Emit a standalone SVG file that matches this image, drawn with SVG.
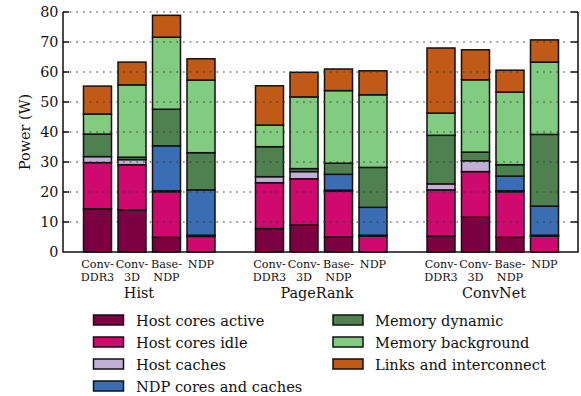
<svg xmlns="http://www.w3.org/2000/svg" width="581" height="396" viewBox="0 0 581 396">
<style>
text{font-family:"DejaVu Serif","Liberation Serif",serif;fill:#111}
.tk{font-size:14.4px;text-anchor:end}
.xl{font-size:11.2px;text-anchor:middle}
.gl{font-size:14.4px;text-anchor:middle}
.lg{font-size:14.6px}
rect.s{stroke:#111;stroke-width:1.5}
.ha{fill:#7c0041}.hi{fill:#cf0a6f}.hc{fill:#c1b0d6}.nd{fill:#3b6db3}.md{fill:#4f8150}.mb{fill:#82cc82}.li{fill:#c15a16}
.grid{stroke:#333;stroke-width:1.1;stroke-dasharray:1.6 5.07;fill:none}
.ax{stroke:#111;stroke-width:1.5;fill:none}
</style>
<rect width="581" height="396" fill="#fff"/>
<g id="bars">
<g id="hist-convddr3">
<rect class="s ha" x="83.5" y="208.8" width="28" height="43.2"/>
<rect class="s hi" x="83.5" y="162.6" width="28" height="46.2"/>
<rect class="s hc" x="83.5" y="156.6" width="28" height="6"/>
<rect class="s md" x="83.5" y="134.1" width="28" height="22.5"/>
<rect class="s mb" x="83.5" y="114" width="28" height="20.1"/>
<rect class="s li" x="83.5" y="86.1" width="28" height="27.9"/>
</g>
<g id="hist-conv3d">
<rect class="s ha" x="118" y="210" width="28" height="42"/>
<rect class="s hi" x="118" y="164.7" width="28" height="45.3"/>
<rect class="s hc" x="118" y="159.6" width="28" height="5.1"/>
<rect class="s md" x="118" y="157.2" width="28" height="2.4"/>
<rect class="s mb" x="118" y="84.9" width="28" height="72.3"/>
<rect class="s li" x="118" y="62.1" width="28" height="22.8"/>
</g>
<g id="hist-basendp">
<rect class="s ha" x="152.5" y="237.3" width="28" height="14.7"/>
<rect class="s hi" x="152.5" y="191.7" width="28" height="45.6"/>
<rect class="s hc" x="152.5" y="190.8" width="28" height="0.9"/>
<rect class="s nd" x="152.5" y="145.8" width="28" height="45"/>
<rect class="s md" x="152.5" y="109.2" width="28" height="36.6"/>
<rect class="s mb" x="152.5" y="37.2" width="28" height="72"/>
<rect class="s li" x="152.5" y="15.3" width="28" height="21.9"/>
</g>
<g id="hist-ndp">
<rect class="s hi" x="187" y="236.4" width="28" height="15.6"/>
<rect class="s hc" x="187" y="235.2" width="28" height="1.2"/>
<rect class="s nd" x="187" y="189.9" width="28" height="45.3"/>
<rect class="s md" x="187" y="152.7" width="28" height="37.2"/>
<rect class="s mb" x="187" y="80.1" width="28" height="72.6"/>
<rect class="s li" x="187" y="58.8" width="28" height="21.3"/>
</g>
<g id="pr-convddr3">
<rect class="s ha" x="255.5" y="228.6" width="28" height="23.4"/>
<rect class="s hi" x="255.5" y="182.7" width="28" height="45.9"/>
<rect class="s hc" x="255.5" y="176.7" width="28" height="6"/>
<rect class="s md" x="255.5" y="146.7" width="28" height="30"/>
<rect class="s mb" x="255.5" y="125.1" width="28" height="21.6"/>
<rect class="s li" x="255.5" y="85.8" width="28" height="39.3"/>
</g>
<g id="pr-conv3d">
<rect class="s ha" x="290" y="225" width="28" height="27"/>
<rect class="s hi" x="290" y="178.8" width="28" height="46.2"/>
<rect class="s hc" x="290" y="171.6" width="28" height="7.2"/>
<rect class="s md" x="290" y="168.6" width="28" height="3"/>
<rect class="s mb" x="290" y="96.9" width="28" height="71.7"/>
<rect class="s li" x="290" y="72.3" width="28" height="24.6"/>
</g>
<g id="pr-basendp">
<rect class="s ha" x="324.5" y="237" width="28" height="15"/>
<rect class="s hi" x="324.5" y="191.1" width="28" height="45.9"/>
<rect class="s hc" x="324.5" y="190.2" width="28" height="0.9"/>
<rect class="s nd" x="324.5" y="174.3" width="28" height="15.9"/>
<rect class="s md" x="324.5" y="163.2" width="28" height="11.1"/>
<rect class="s mb" x="324.5" y="90.6" width="28" height="72.6"/>
<rect class="s li" x="324.5" y="69" width="28" height="21.6"/>
</g>
<g id="pr-ndp">
<rect class="s hi" x="359" y="236.1" width="28" height="15.9"/>
<rect class="s hc" x="359" y="235.2" width="28" height="0.9"/>
<rect class="s nd" x="359" y="207.3" width="28" height="27.9"/>
<rect class="s md" x="359" y="167.4" width="28" height="39.9"/>
<rect class="s mb" x="359" y="94.8" width="28" height="72.6"/>
<rect class="s li" x="359" y="70.8" width="28" height="24"/>
</g>
<g id="cn-convddr3">
<rect class="s ha" x="427" y="236.1" width="28" height="15.9"/>
<rect class="s hi" x="427" y="189.9" width="28" height="46.2"/>
<rect class="s hc" x="427" y="183.9" width="28" height="6"/>
<rect class="s md" x="427" y="135.3" width="28" height="48.6"/>
<rect class="s mb" x="427" y="113.1" width="28" height="22.2"/>
<rect class="s li" x="427" y="48" width="28" height="65.1"/>
</g>
<g id="cn-conv3d">
<rect class="s ha" x="461.5" y="217.2" width="28" height="34.8"/>
<rect class="s hi" x="461.5" y="171.6" width="28" height="45.6"/>
<rect class="s hc" x="461.5" y="160.8" width="28" height="10.8"/>
<rect class="s md" x="461.5" y="152.1" width="28" height="8.7"/>
<rect class="s mb" x="461.5" y="79.8" width="28" height="72.3"/>
<rect class="s li" x="461.5" y="49.8" width="28" height="30"/>
</g>
<g id="cn-basendp">
<rect class="s ha" x="496" y="237.3" width="28" height="14.7"/>
<rect class="s hi" x="496" y="191.7" width="28" height="45.6"/>
<rect class="s hc" x="496" y="190.8" width="28" height="0.9"/>
<rect class="s nd" x="496" y="176.1" width="28" height="14.7"/>
<rect class="s md" x="496" y="164.7" width="28" height="11.4"/>
<rect class="s mb" x="496" y="92.1" width="28" height="72.6"/>
<rect class="s li" x="496" y="70.2" width="28" height="21.9"/>
</g>
<g id="cn-ndp">
<rect class="s hi" x="530.5" y="236.1" width="28" height="15.9"/>
<rect class="s hc" x="530.5" y="235.2" width="28" height="0.9"/>
<rect class="s nd" x="530.5" y="206.1" width="28" height="29.1"/>
<rect class="s md" x="530.5" y="134.4" width="28" height="71.7"/>
<rect class="s mb" x="530.5" y="62.1" width="28" height="72.3"/>
<rect class="s li" x="530.5" y="39.9" width="28" height="22.2"/>
</g>
</g>
<g id="grid">
<path class="grid" d="M63 12H578M63 42H578M63 72H578M63 102H578M63 132H578M63 162H578M63 192H578M63 222H578"/>
</g>
<g id="axes">
<path class="ax" d="M63 12V252H578V12"/>
<path class="ax" d="M63 12h6M63 42h6M63 72h6M63 102h6M63 132h6M63 162h6M63 192h6M63 222h6M578 12h-7M578 42h-7M578 72h-7M578 102h-7M578 132h-7M578 162h-7M578 192h-7M578 222h-7"/>
<text class="tk" x="58.5" y="17">80</text>
<text class="tk" x="58.5" y="47">70</text>
<text class="tk" x="58.5" y="77">60</text>
<text class="tk" x="58.5" y="107">50</text>
<text class="tk" x="58.5" y="137">40</text>
<text class="tk" x="58.5" y="167">30</text>
<text class="tk" x="58.5" y="197">20</text>
<text class="tk" x="58.5" y="227">10</text>
<text class="tk" x="58.5" y="257">0</text>
<text class="gl" transform="translate(29.5 132) rotate(-90)">Power (W)</text>
</g>
<g id="xlabels">
<text class="xl" x="97.5" y="268">Conv-</text><text class="xl" x="97.5" y="280.5">DDR3</text>
<text class="xl" x="132" y="268">Conv-</text><text class="xl" x="132" y="280.5">3D</text>
<text class="xl" x="166.5" y="268">Base-</text><text class="xl" x="166.5" y="280.5">NDP</text>
<text class="xl" x="201" y="268">NDP</text>
<text class="xl" x="269.5" y="268">Conv-</text><text class="xl" x="269.5" y="280.5">DDR3</text>
<text class="xl" x="304" y="268">Conv-</text><text class="xl" x="304" y="280.5">3D</text>
<text class="xl" x="338.5" y="268">Base-</text><text class="xl" x="338.5" y="280.5">NDP</text>
<text class="xl" x="373" y="268">NDP</text>
<text class="xl" x="441" y="268">Conv-</text><text class="xl" x="441" y="280.5">DDR3</text>
<text class="xl" x="475.5" y="268">Conv-</text><text class="xl" x="475.5" y="280.5">3D</text>
<text class="xl" x="510" y="268">Base-</text><text class="xl" x="510" y="280.5">NDP</text>
<text class="xl" x="544.5" y="268">NDP</text>
<text class="gl" x="139" y="297.5">Hist</text>
<text class="gl" x="317" y="297.5">PageRank</text>
<text class="gl" x="494" y="297.5">ConvNet</text>
</g>
<g id="legend">
<rect class="s ha" x="93.5" y="315" width="30" height="10"/><text class="lg" x="136" y="325.5">Host cores active</text>
<rect class="s hi" x="93.5" y="337" width="30" height="10"/><text class="lg" x="136" y="347.5">Host cores idle</text>
<rect class="s hc" x="93.5" y="359" width="30" height="10"/><text class="lg" x="136" y="369.5">Host caches</text>
<rect class="s nd" x="93.5" y="381" width="30" height="10"/><text class="lg" x="136" y="391.5">NDP cores and caches</text>
<rect class="s md" x="333" y="315" width="30" height="10"/><text class="lg" x="375" y="325.5">Memory dynamic</text>
<rect class="s mb" x="333" y="337" width="30" height="10"/><text class="lg" x="375" y="347.5">Memory background</text>
<rect class="s li" x="333" y="359" width="30" height="10"/><text class="lg" x="375" y="369.5">Links and interconnect</text>
</g>
</svg>
